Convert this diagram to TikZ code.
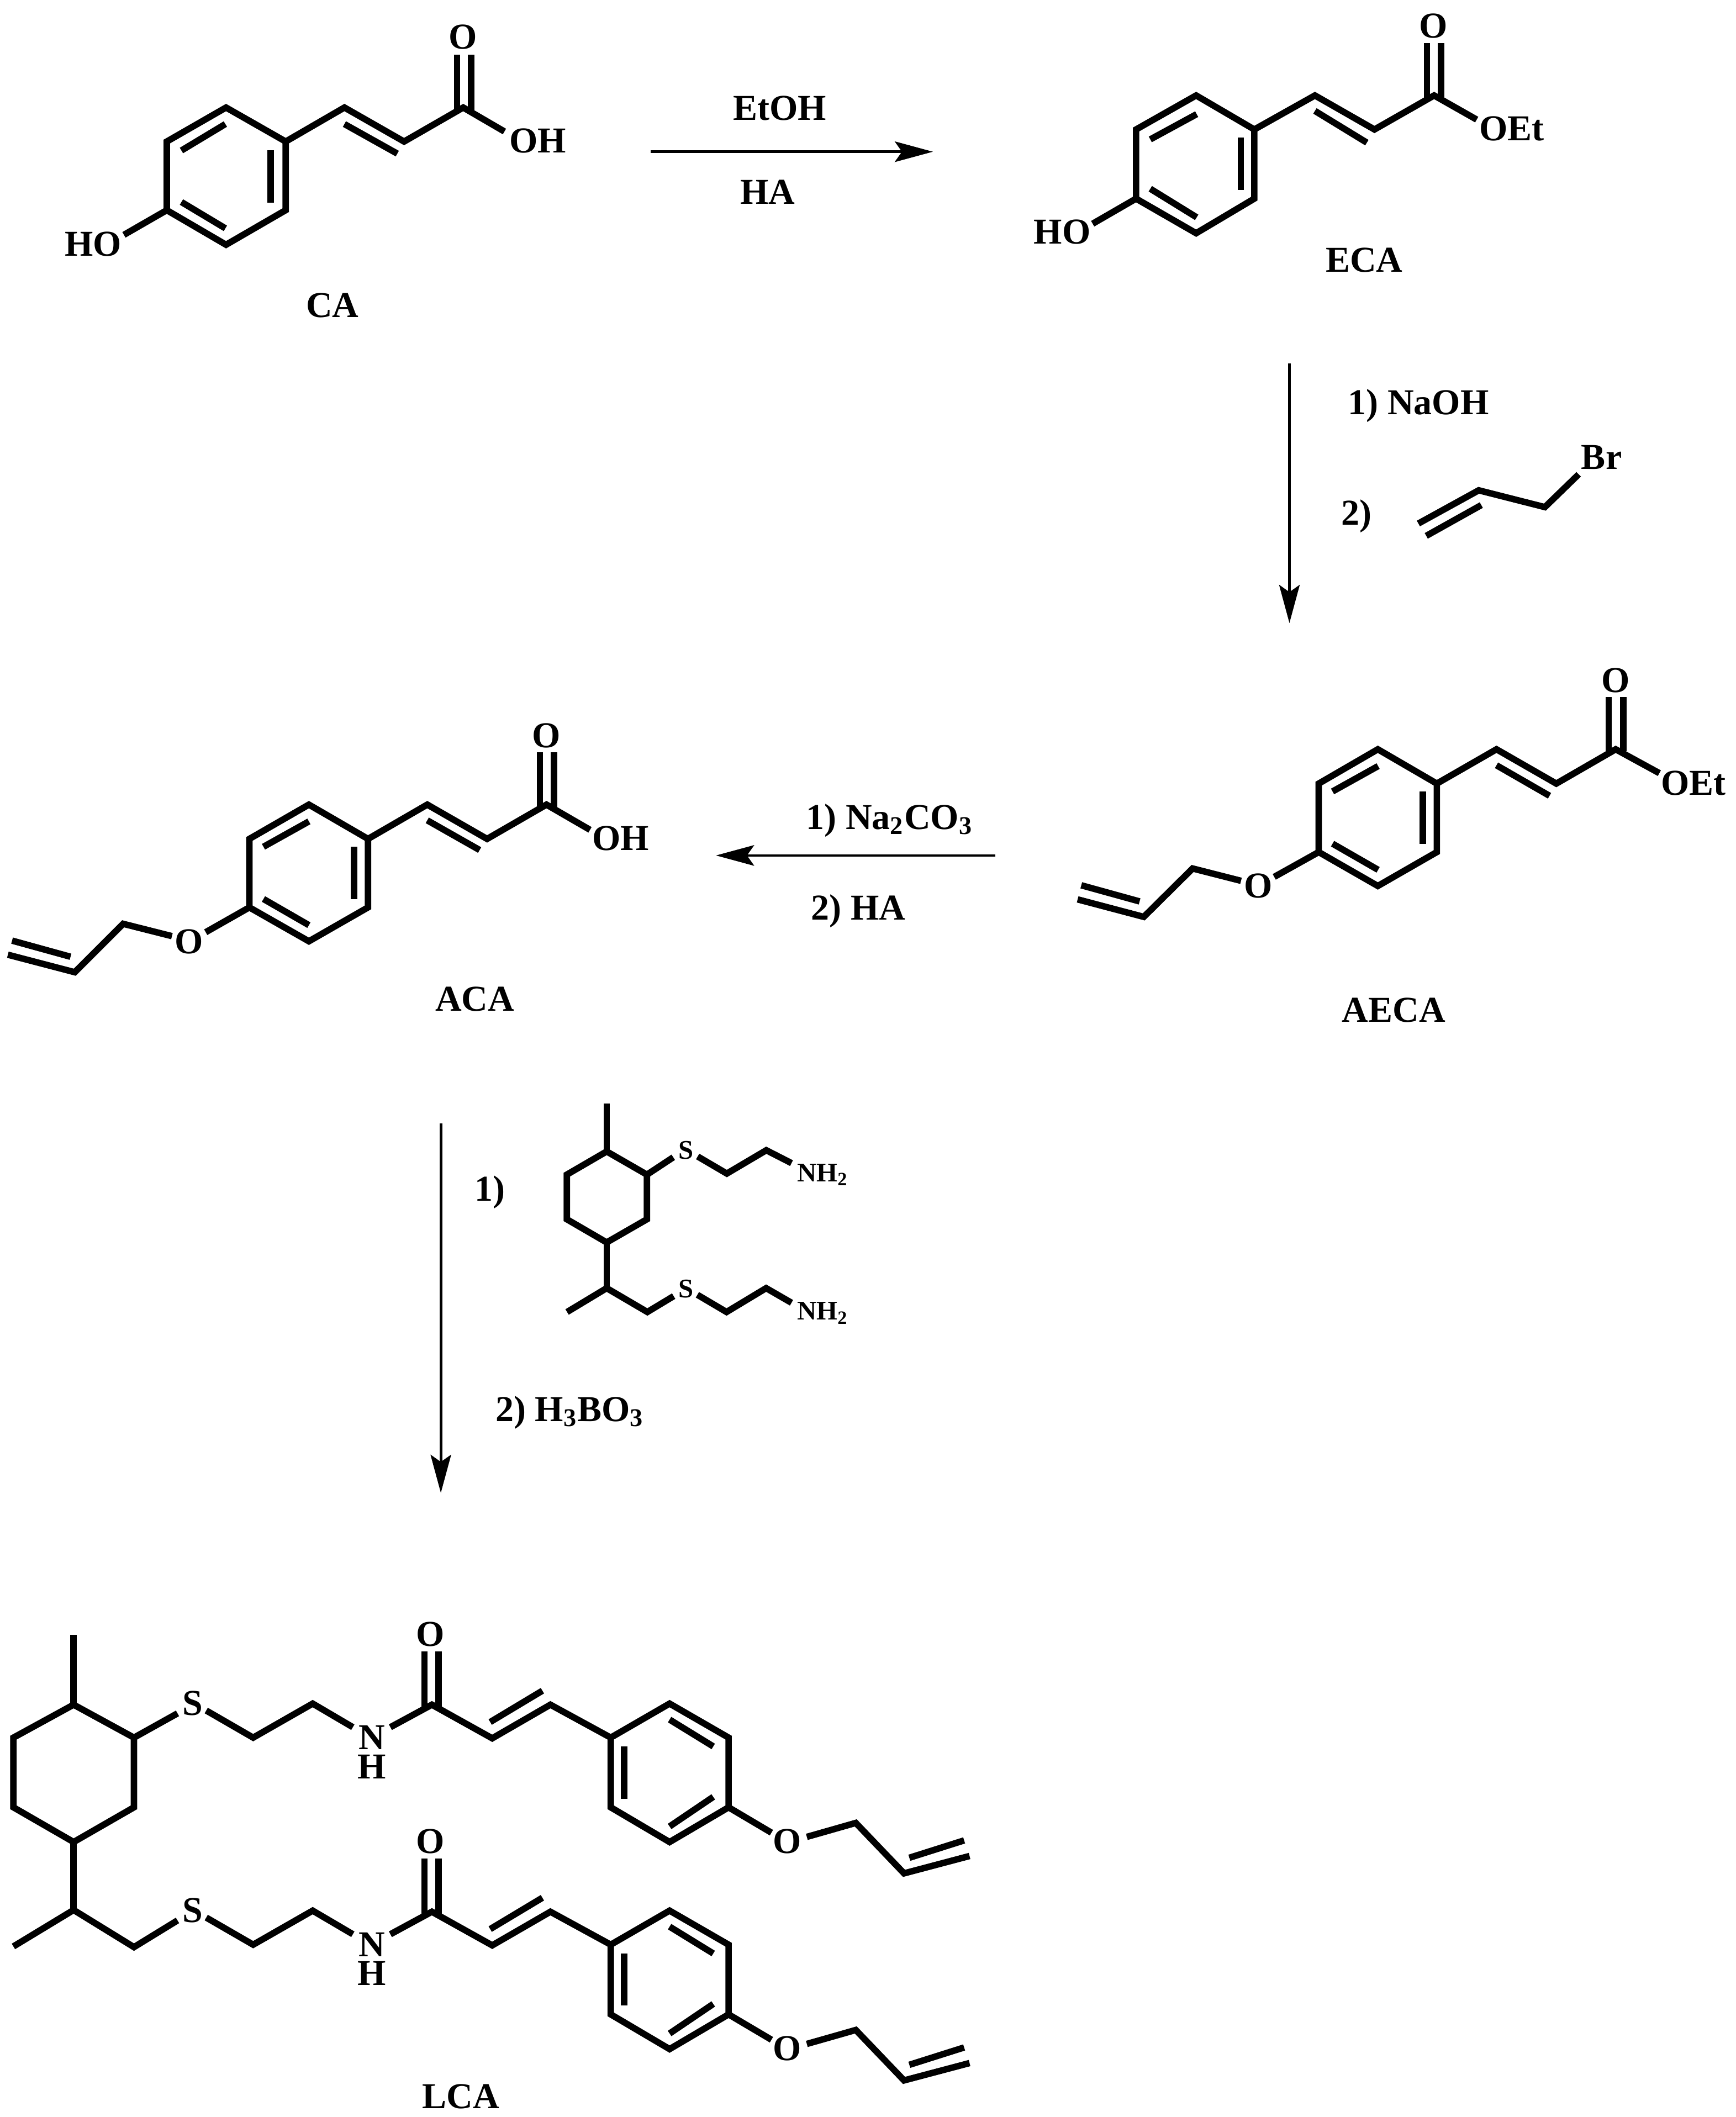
\documentclass[tikz,border=0pt]{standalone}
\usepackage{fontspec}
\setmainfont{Liberation Serif}
\usetikzlibrary{arrows.meta}

\begin{document}
\begin{tikzpicture}[x=0.02cm, y=-0.02cm,
  bond/.style={line width=2.7pt},
  rxn/.style={line width=1.1pt, -{Stealth[length=16pt,width=8.6pt,inset=3pt]}},
  atom/.style={anchor=base, inner sep=0pt, font=\fontsize{15.3}{18}\selectfont\bfseries},
  amide/.style={atom, align=center, font=\fontsize{15.3}{12.25}\selectfont\bfseries},
  tiny/.style={anchor=base, inner sep=0pt, font=\fontsize{11.3}{14}\selectfont\bfseries}]
\useasboundingbox (0,0) rectangle (1280,1561.3);
% CA
\draw[bond] (166.7,79.3)--(123,104.4)--(123,155)--(166.7,180.5)--(210.7,155)--(210.7,104.4)--cycle;
\draw[bond] (166.2,91.5)--(133.8,111);
\draw[bond] (133.8,149)--(166.2,168.4);
\draw[bond] (199.5,110.6)--(199.5,149.3);
\draw[bond] (210.7,104.4)--(254,79.3)--(298,104.4)--(341.6,79.3)--(372,97);
\draw[bond] (254,91.5)--(293,113.3);
\draw[bond] (337,81)--(337,40.5);
\draw[bond] (347.5,81)--(347.5,40.5);
\draw[bond] (123,155)--(91.4,173.2);
\node[atom] (caO) at (341.6,36.2) {O};
\node[atom] (caOH) at (396.5,112.5) {OH};
\node[atom] (caHO) at (68.6,189) {HO};
\node[atom] (caName) at (245.2,233.9) {CA};
% first step
\coordinate (stepAa) at (480,111.9);
\coordinate (stepAb) at (688,111.9);
\draw[rxn] (stepAa)--(stepAb);
\node[atom] (etoh) at (575,88.7) {EtOH};
\node[atom] (ha) at (566,150.6) {HA};
% ECA
\draw[bond] (882.1,70.4)--(837.8,95.5)--(837.8,146.5)--(882.1,172)--(925,146.5)--(925,95.5)--cycle;
\draw[bond] (882.5,84.2)--(848.3,102.8);
\draw[bond] (848.3,139.2)--(882.5,160.3);
\draw[bond] (915,101.5)--(915,140.2);
\draw[bond] (925,95.5)--(969.7,70.4)--(1013.6,95.5)--(1057.6,70.4)--(1089,88.2);
\draw[bond] (969.7,81.8)--(1008,105.2);
\draw[bond] (1052.3,72)--(1052.3,31.7);
\draw[bond] (1062.8,72)--(1062.8,31.7);
\draw[bond] (837.8,146.5)--(805.8,165);
\node[atom] (ecaO) at (1056.9,27.8) {O};
\node[atom] (ecaOEt) at (1114.8,103.6) {OEt};
\node[atom] (ecaHO) at (783.4,180) {HO};
\node[atom] (ecaName) at (1006,200.7) {ECA};
% second step
\coordinate (stepBa) at (950.9,268);
\coordinate (stepBb) at (950.9,459.5);
\draw[rxn] (stepBa)--(stepBb);
\node[atom] (naoh) at (1046,305.8) {1) NaOH};
\node[atom] (two) at (1000.5,387) {2)};
\draw[bond] (1046,386.1)--(1090.5,361.6)--(1139.3,374)--(1164.2,349.8);
\draw[bond] (1051.8,395.2)--(1092.4,372.5);
\node[atom] (br) at (1181.1,346.1) {Br};
% AECA
\draw[bond] (1016.1,552.6)--(972.5,577.9)--(972.5,628.4)--(1016.1,653.4)--(1059.6,628.4)--(1059.6,577.9)--cycle;
\draw[bond] (1016.3,565)--(982.7,583.7);
\draw[bond] (982.7,622.2)--(1016.3,641.5);
\draw[bond] (1049.4,583.7)--(1049.4,622.2);
\draw[bond] (1059.6,577.9)--(1103.6,552.6)--(1147.7,577.9)--(1191.5,552.6)--(1223.7,570.2);
\draw[bond] (1103.6,564.4)--(1142.7,586.9);
\draw[bond] (1186.3,554)--(1186.3,514.1);
\draw[bond] (1197.1,554)--(1197.1,514.1);
\draw[bond] (972.5,628.4)--(939.7,646.7);
\draw[bond] (915.2,649.6)--(879.5,640.5)--(843.5,676.2)--(794.7,663.3);
\draw[bond] (840.4,664.8)--(797.4,652.9);
\node[atom] (aecaO) at (1191.3,510.6) {O};
\node[atom] (aecaOEt) at (1248.9,586.2) {OEt};
\node[atom] (aecaOx) at (928.1,662.3) {O};
\node[atom] (aecaName) at (1027.8,753.7) {AECA};
% third step
\coordinate (stepCa) at (734,630.9);
\coordinate (stepCb) at (528,630.9);
\draw[rxn] (stepCa)--(stepCb);
\node[atom] (naco) at (656,611.5) {1) Na\textsubscript{2}CO\textsubscript{3}};
\node[atom] (twoha) at (633,678.6) {2) HA};
% ACA
\draw[bond] (227.8,593.4)--(183.9,618.7)--(183.9,669.2)--(227.8,694.2)--(271.4,669.2)--(271.4,618.7)--cycle;
\draw[bond] (227.8,605.8)--(194.3,624.5);
\draw[bond] (194.3,663)--(227.8,682.3);
\draw[bond] (261,624.5)--(261,663);
\draw[bond] (271.4,618.7)--(315.1,593.4)--(359.2,618.7)--(403,593.4)--(435.1,612);
\draw[bond] (315.1,605)--(353.7,626.9);
\draw[bond] (398.2,595)--(398.2,554.9);
\draw[bond] (408.5,595)--(408.5,554.9);
\draw[bond] (183.9,669.2)--(151.7,687.5);
\draw[bond] (126.8,690.4)--(90.8,681.3)--(55.1,717)--(5.8,704.1);
\draw[bond] (52,705.6)--(8.9,693.7);
\node[atom] (acaO) at (402.8,551.5) {O};
\node[atom] (acaOH) at (457.7,626.9) {OH};
\node[atom] (acaOx) at (139.4,703.1) {O};
\node[atom] (acaName) at (350.2,745.8) {ACA};
% fourth step
\coordinate (stepDa) at (325.1,828.4);
\coordinate (stepDb) at (325.1,1101);
\draw[rxn] (stepDa)--(stepDb);
\node[atom] (one) at (361.4,885.8) {1)};
\node[atom] (boric) at (420.3,1048.3) {2) H\textsubscript{3}BO\textsubscript{3}};
% dithiol amine
\draw[bond] (447.4,849.2)--(418,866.3)--(418,899.2)--(447.4,916.3)--(477.1,899.2)--(477.1,866.3)--cycle;
\draw[bond] (447.4,849.2)--(447.4,813.8);
\draw[bond] (477.1,866.3)--(496.5,853.5);
\draw[bond] (514.5,852.9)--(536,865.5)--(565.1,848.3)--(583.7,857.8);
\draw[bond] (447.4,916.3)--(447.4,950);
\draw[bond] (418.2,967.6)--(447.4,950)--(477.4,967.6)--(496.8,955.9);
\draw[bond] (514.3,954.9)--(535.8,967.6)--(565,950)--(583.7,960.8);
\node[tiny] (amS) at (506,854.9) {S};
\node[tiny] (amSb) at (506.1,956.9) {S};
\node[tiny, anchor=base west] (amN) at (587.5,871.4) {NH\textsubscript{2}};
\node[tiny, anchor=base west] (amNb) at (587.5,973.5) {NH\textsubscript{2}};
% LCA, core
\draw[bond] (54.3,1257.2)--(9.9,1281.5)--(9.9,1332.9)--(54.3,1358.5)--(98.8,1332.9)--(98.8,1281.5)--cycle;
\draw[bond] (54.3,1257.2)--(54.3,1205.8);
\draw[bond] (54.3,1358.5)--(54.3,1408.6);
\draw[bond] (9.9,1435.5)--(54.3,1408.6)--(98.8,1436)--(130.9,1416.3);
% LCA, upper arm
\draw[bond] (98.8,1281.5)--(130.9,1263.6);
\draw[bond] (152.1,1261.5)--(186.7,1281.5)--(230.6,1256.4)--(260.2,1273.8);
\draw[bond] (287.9,1273.8)--(318.5,1257.2)--(363,1282)--(405.9,1257.2)--(450.4,1281.5);
\draw[bond] (361.5,1270)--(400,1246.9);
\draw[bond] (313.1,1259)--(313.1,1217.9);
\draw[bond] (323.5,1259)--(323.5,1217.9);
\draw[bond] (450.4,1281.5)--(493.8,1256.4)--(537.3,1281.5)--(537.3,1332.9)--(493.8,1358.5)--(450.4,1332.9)--cycle;
\draw[bond] (493.8,1268.2)--(526,1288);
\draw[bond] (526,1325.2)--(493.8,1347);
\draw[bond] (460.2,1288)--(460.2,1326.5);
\draw[bond] (537.3,1332.9)--(568.9,1351.6);
\draw[bond] (595,1354.7)--(631.1,1344.4)--(666.7,1381.6)--(715,1368.8);
\draw[bond] (670.6,1370.1)--(711,1357.3);
\node[atom] (lcaS) at (142.2,1264.9) {S};
\node[amide] (lcaNH) at (274.3,1311.6) {N\\H};
\node[atom] (lcaO) at (317.5,1214) {O};
\node[atom] (lcaOx) at (580.7,1366.8) {O};
% LCA, lower arm
\draw[bond] (152.1,1414.2)--(186.7,1434.2)--(230.6,1409.1)--(260.2,1426.5);
\draw[bond] (287.9,1426.5)--(318.5,1409.9)--(363,1434.7)--(405.9,1409.9)--(450.4,1434.2);
\draw[bond] (361.5,1422.7)--(400,1399.6);
\draw[bond] (313.1,1411.7)--(313.1,1370.6);
\draw[bond] (323.5,1411.7)--(323.5,1370.6);
\draw[bond] (450.4,1434.2)--(493.8,1409.1)--(537.3,1434.2)--(537.3,1485.6)--(493.8,1511.2)--(450.4,1485.6)--cycle;
\draw[bond] (493.8,1420.9)--(526,1440.7);
\draw[bond] (526,1477.9)--(493.8,1499.7);
\draw[bond] (460.2,1440.7)--(460.2,1479.2);
\draw[bond] (537.3,1485.6)--(568.9,1504.3);
\draw[bond] (595,1507.4)--(631.1,1497.1)--(666.7,1534.3)--(715,1521.5);
\draw[bond] (670.6,1522.8)--(711,1510);
\node[atom] (lcaSb) at (142.2,1417.6) {S};
\node[amide] (lcaNHb) at (274.3,1464.3) {N\\H};
\node[atom] (lcaOb) at (317.5,1366.7) {O};
\node[atom] (lcaOxb) at (580.7,1519.5) {O};
\node[atom] (lcaName) at (339.8,1554.9) {LCA};
\end{tikzpicture}
\end{document}
